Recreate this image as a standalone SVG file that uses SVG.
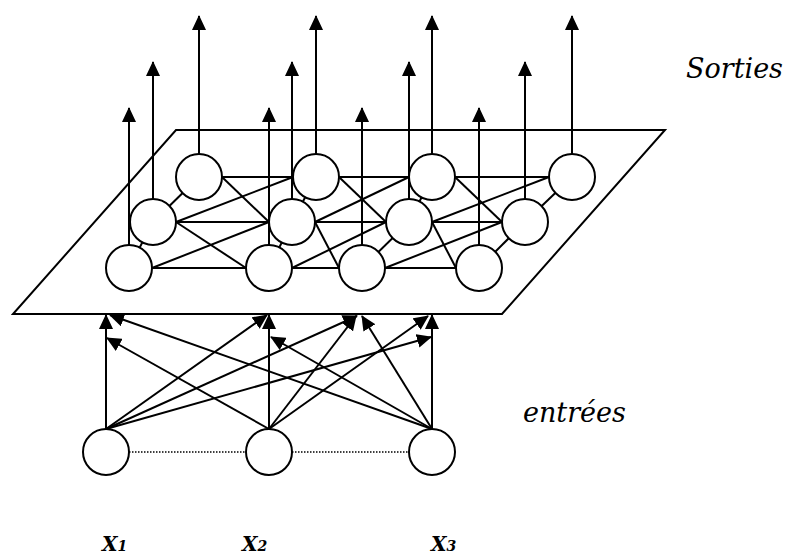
<svg xmlns="http://www.w3.org/2000/svg" width="789" height="556" viewBox="0 0 789 556">
<defs>
<marker id="ah" viewBox="0 0 15 14" refX="14" refY="7" markerWidth="15" markerHeight="14" markerUnits="userSpaceOnUse" orient="auto">
<path d="M0,0 L15,7 L0,14 z" fill="#000"/>
</marker>
<style>
.ln{stroke:#000;stroke-width:2;fill:none}
.ar{stroke:#000;stroke-width:2;fill:none;marker-end:url(#ah)}
.nd{fill:#fff;stroke:#000;stroke-width:2}
.dot{stroke:#000;stroke-width:1.5;stroke-dasharray:1.5,1.5;fill:none}
.lbl{font-family:"DejaVu Serif","Liberation Serif",serif;font-style:italic;font-size:27px;fill:#000}
.x{font-family:"DejaVu Serif","Liberation Serif",serif;font-style:italic;font-weight:bold;font-size:20px;fill:#000}
.sub{font-size:14px}
</style>
</defs>
<rect width="789" height="556" fill="#fff"/>
<g id="plane">
<polygon class="ln" points="176,130 665,130 502,314 13,314"/>
</g>
<g id="connectors">
<line class="ln" x1="222" y1="177" x2="293" y2="177"/>
<line class="ln" x1="339" y1="177" x2="409" y2="177"/>
<line class="ln" x1="455" y1="177" x2="549" y2="177"/>
<line class="ln" x1="176" y1="222" x2="269" y2="222"/>
<line class="ln" x1="315" y1="222" x2="386" y2="222"/>
<line class="ln" x1="432" y1="222" x2="502" y2="222"/>
<line class="ln" x1="152" y1="268" x2="246" y2="268"/>
<line class="ln" x1="292" y1="268" x2="339" y2="268"/>
<line class="ln" x1="385" y1="268" x2="456" y2="268"/>
<line class="ln" x1="222" y1="177" x2="269" y2="222"/>
<line class="ln" x1="339" y1="177" x2="386" y2="222"/>
<line class="ln" x1="455" y1="177" x2="502" y2="222"/>
<line class="ln" x1="176" y1="222" x2="293" y2="177"/>
<line class="ln" x1="315" y1="222" x2="409" y2="177"/>
<line class="ln" x1="432" y1="222" x2="549" y2="177"/>
<line class="ln" x1="176" y1="222" x2="246" y2="268"/>
<line class="ln" x1="315" y1="222" x2="339" y2="268"/>
<line class="ln" x1="432" y1="222" x2="456" y2="268"/>
<line class="ln" x1="152" y1="268" x2="269" y2="222"/>
<line class="ln" x1="292" y1="268" x2="386" y2="222"/>
<line class="ln" x1="385" y1="268" x2="502" y2="222"/>
<line class="ln" x1="199" y1="177" x2="153" y2="222"/>
<line class="ln" x1="153" y1="222" x2="129" y2="268"/>
<line class="ln" x1="316" y1="177" x2="292" y2="222"/>
<line class="ln" x1="292" y1="222" x2="269" y2="268"/>
<line class="ln" x1="432" y1="177" x2="409" y2="222"/>
<line class="ln" x1="409" y1="222" x2="362" y2="268"/>
<line class="ln" x1="572" y1="177" x2="525" y2="222"/>
<line class="ln" x1="525" y1="222" x2="479" y2="268"/>
<line class="ar" x1="106" y1="429" x2="106" y2="315"/>
<line class="ar" x1="106" y1="429" x2="267" y2="315"/>
<line class="ar" x1="106" y1="429" x2="357" y2="316"/>
<line class="ar" x1="106" y1="429" x2="431" y2="337"/>
<line class="ar" x1="269" y1="429" x2="107" y2="338"/>
<line class="ar" x1="269" y1="429" x2="269" y2="315"/>
<line class="ar" x1="269" y1="429" x2="356" y2="316"/>
<line class="ar" x1="269" y1="429" x2="428" y2="316"/>
<line class="ar" x1="432" y1="429" x2="110" y2="315"/>
<line class="ar" x1="432" y1="429" x2="271" y2="337"/>
<line class="ar" x1="432" y1="429" x2="362" y2="316"/>
<line class="ar" x1="432" y1="429" x2="432" y2="315"/>
<line class="dot" x1="129" y1="452" x2="246" y2="452"/>
<line class="dot" x1="292" y1="452" x2="409" y2="452"/>
</g>
<g id="grid-nodes">
<circle class="nd" cx="199" cy="177" r="23"/>
<circle class="nd" cx="316" cy="177" r="23"/>
<circle class="nd" cx="432" cy="177" r="23"/>
<circle class="nd" cx="572" cy="177" r="23"/>
<circle class="nd" cx="153" cy="222" r="23"/>
<circle class="nd" cx="292" cy="222" r="23"/>
<circle class="nd" cx="409" cy="222" r="23"/>
<circle class="nd" cx="525" cy="222" r="23"/>
<circle class="nd" cx="129" cy="268" r="23"/>
<circle class="nd" cx="269" cy="268" r="23"/>
<circle class="nd" cx="362" cy="268" r="23"/>
<circle class="nd" cx="479" cy="268" r="23"/>
</g>
<g id="outputs">
<line class="ar" x1="129" y1="245" x2="129" y2="108"/>
<line class="ar" x1="269" y1="245" x2="269" y2="108"/>
<line class="ar" x1="362" y1="245" x2="362" y2="108"/>
<line class="ar" x1="479" y1="245" x2="479" y2="108"/>
<line class="ar" x1="153" y1="199" x2="153" y2="62"/>
<line class="ar" x1="292" y1="199" x2="292" y2="62"/>
<line class="ar" x1="409" y1="199" x2="409" y2="62"/>
<line class="ar" x1="525" y1="199" x2="525" y2="62"/>
<line class="ar" x1="199" y1="154" x2="199" y2="16"/>
<line class="ar" x1="316" y1="154" x2="316" y2="16"/>
<line class="ar" x1="432" y1="154" x2="432" y2="16"/>
<line class="ar" x1="572" y1="154" x2="572" y2="16"/>
</g>
<g id="input-nodes">
<g id="x1"><circle class="nd" cx="106" cy="452" r="23"/></g>
<g id="x2"><circle class="nd" cx="269" cy="452" r="23"/></g>
<g id="x3"><circle class="nd" cx="432" cy="452" r="23"/></g>
</g>
<g id="labels">
<text class="lbl" x="686" y="78">Sorties</text>
<text class="lbl" x="523" y="422">entrées</text>
<text class="x" x="102" y="551">X<tspan class="sub">1</tspan></text>
<text class="x" x="242" y="551">X<tspan class="sub">2</tspan></text>
<text class="x" x="431" y="551">X<tspan class="sub">3</tspan></text>
</g>
</svg>
